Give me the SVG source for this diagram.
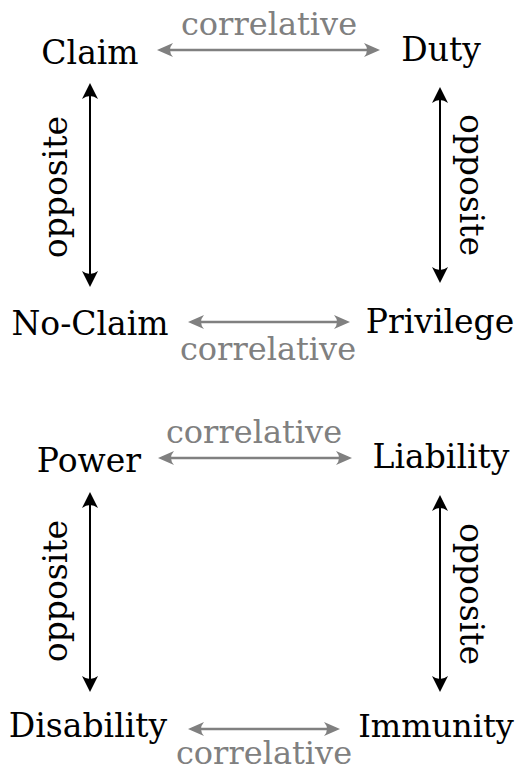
<svg xmlns="http://www.w3.org/2000/svg" width="516" height="772" viewBox="0 0 516 772">
  <style>
    text { font-family: 'DejaVu Serif', 'Liberation Serif', serif; font-size: 33px; text-anchor: middle; }
    .term { fill: #000; }
    .rel { fill: #808080; font-size: 32px; }
    .opp { fill: #000; }
    .corr { stroke: #808080; stroke-width: 2.6; fill: none; marker-start: url(#headGray); marker-end: url(#headGray); }
    .oppline { stroke: #000; stroke-width: 2; fill: none; marker-start: url(#headBlack); marker-end: url(#headBlack); }
  </style>
  <defs>
    <marker id="headGray" viewBox="-14 -8 20 16" refX="0" refY="0" markerWidth="20" markerHeight="16" markerUnits="userSpaceOnUse" orient="auto-start-reverse">
      <path d="M4,0 L-12,-7 Q-6,0 -12,7 Z" fill="#808080"/>
    </marker>
    <marker id="headBlack" viewBox="-14 -9 20 18" refX="0" refY="0" markerWidth="20" markerHeight="18" markerUnits="userSpaceOnUse" orient="auto-start-reverse">
      <path d="M4,0 L-12,-8 Q-6,0 -12,8 Z" fill="#000"/>
    </marker>
  </defs>

  <!-- first square: claim / duty / no-claim / privilege -->
  <g id="claim"><text class="term" x="90" y="64">Claim</text></g>
  <g id="duty"><text class="term" x="441" y="61">Duty</text></g>
  <g id="no-claim"><text class="term" x="90" y="335">No-Claim</text></g>
  <g id="privilege"><text class="term" x="440" y="333">Privilege</text></g>

  <!-- second square: power / liability / disability / immunity -->
  <g id="power"><text class="term" x="89" y="472">Power</text></g>
  <g id="liability"><text class="term" x="441" y="468">Liability</text></g>
  <g id="disability"><text class="term" x="88" y="737">Disability</text></g>
  <g id="immunity"><text class="term" x="436" y="737" style="font-size:32px">Immunity</text></g>

  <g id="connectors">
    <!-- correlative pairs (horizontal, gray) -->
    <line class="corr" x1="161" y1="50" x2="376" y2="50"/>
    <text class="rel" x="269" y="35">correlative</text>
    <line class="corr" x1="192" y1="322" x2="346" y2="322"/>
    <text class="rel" x="268" y="360">correlative</text>
    <line class="corr" x1="162" y1="458" x2="348" y2="458"/>
    <text class="rel" x="254" y="443">correlative</text>
    <line class="corr" x1="192" y1="729" x2="336" y2="729"/>
    <text class="rel" x="264" y="764">correlative</text>

    <!-- opposite pairs (vertical, black) -->
    <line class="oppline" x1="90" y1="87" x2="90" y2="283"/>
    <text class="opp" transform="translate(67,187) rotate(-90)">opposite</text>
    <line class="oppline" x1="440" y1="91" x2="440" y2="279"/>
    <text class="opp" transform="translate(460,185) rotate(90)">opposite</text>
    <line class="oppline" x1="90" y1="496" x2="90" y2="688"/>
    <text class="opp" transform="translate(67,591) rotate(-90)">opposite</text>
    <line class="oppline" x1="440" y1="499" x2="440" y2="688"/>
    <text class="opp" transform="translate(460,594) rotate(90)">opposite</text>
  </g>
</svg>
